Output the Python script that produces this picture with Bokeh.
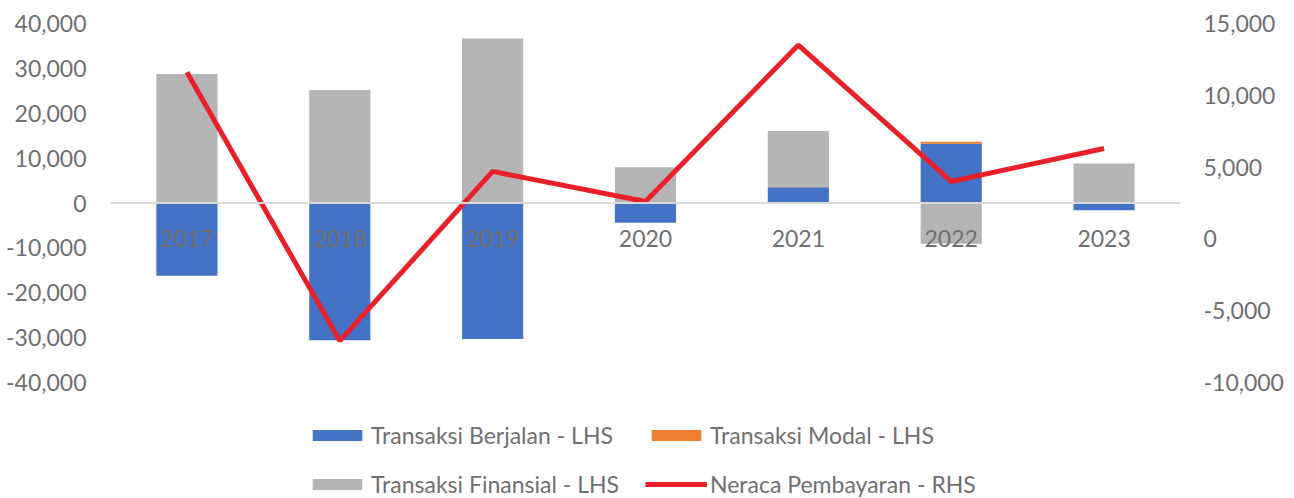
from bokeh.plotting import figure
from bokeh.layouts import column
from bokeh.models import (Range1d, LinearAxis, FixedTicker, NumeralTickFormatter,
                          Span, Legend, LegendItem, FactorRange, ColumnDataSource)
from bokeh.core.properties import value
from bokeh.embed import file_html
from bokeh.resources import INLINE

# ---- data (USD million) ----
years = ["2017", "2018", "2019", "2020", "2021", "2022", "2023"]
transaksi_berjalan = [-16200, -30600, -30300, -4400, 3500, 13200, -1600]
transaksi_modal = [50, 100, 40, 40, 70, 470, 100]
transaksi_finansial = [28700, 25100, 36600, 7900, 12500, -9100, 8700]
neraca_pembayaran = [11600, -7100, 4700, 2600, 13500, 4000, 6300]
left_ticks = [-40000, -30000, -20000, -10000, 0, 10000, 20000, 30000, 40000]
right_ticks = [-10000, -5000, 0, 5000, 10000, 15000]
series_names = ["Transaksi Berjalan - LHS", "Transaksi Modal - LHS",
                "Transaksi Finansial - LHS", "Neraca Pembayaran - RHS"]

FONT = "Lato"
TXT = "#6f6f6f"
C_BLUE, C_ORANGE, C_GRAY, C_RED = "#4472c4", "#ed7d31", "#b4b4b4", "#e8202a"

p = figure(width=1288, height=398, x_range=FactorRange(factors=years, range_padding=0),
           y_range=Range1d(left_ticks[0], left_ticks[-1]),
           output_backend="svg", toolbar_location=None,
           min_border_left=110, min_border_right=108, min_border_top=23, min_border_bottom=16)
p.outline_line_color = None
p.xgrid.visible = False
p.ygrid.visible = False
p.xaxis.visible = False

# left axis
ya = p.yaxis[0]
ya.ticker = FixedTicker(ticks=left_ticks)
ya.formatter = NumeralTickFormatter(format="0,0")
ya.axis_line_color = None
ya.major_tick_line_color = None
ya.minor_tick_line_color = None
ya.major_tick_out = 0
ya.major_label_standoff = 24
ya.major_label_text_font = FONT
ya.major_label_text_font_size = "23px"
ya.major_label_text_color = TXT

# right axis
p.extra_y_ranges = {"rhs": Range1d(right_ticks[0], right_ticks[-1])}
ra = LinearAxis(y_range_name="rhs", ticker=FixedTicker(ticks=right_ticks),
                formatter=NumeralTickFormatter(format="0,0"))
ra.axis_line_color = None
ra.major_tick_line_color = None
ra.minor_tick_line_color = None
ra.major_tick_out = 0
ra.major_label_standoff = 23
ra.major_label_text_font = FONT
ra.major_label_text_font_size = "23px"
ra.major_label_text_color = TXT
p.add_layout(ra, "right")

# zero line
p.add_layout(Span(location=0, dimension="width", line_color="#d9d9d9", line_width=2))

# stacked bars (positives and negatives stacked separately)
series = [transaksi_berjalan, transaksi_modal, transaksi_finansial]
colors = [C_BLUE, C_ORANGE, C_GRAY]
pos = [0] * len(years)
neg = [0] * len(years)
for vals, col in zip(series, colors):
    tops, bottoms = [], []
    for i, v in enumerate(vals):
        if v >= 0:
            bottoms.append(pos[i]); tops.append(pos[i] + v); pos[i] += v
        else:
            tops.append(neg[i]); bottoms.append(neg[i] + v); neg[i] += v
    src = ColumnDataSource(dict(x=years, top=tops, bottom=bottoms))
    p.vbar(x="x", top="top", bottom="bottom", width=0.4, source=src,
           fill_color=col, line_color=None)

# category labels next to zero line
p.text(x=years, y=[0] * len(years), text=years, text_align="center", text_baseline="middle",
       y_offset=35, text_font=value(FONT), text_font_size="23px", text_color=TXT)

# line on RHS
p.line(x=years, y=neraca_pembayaran, y_range_name="rhs", line_color=C_RED, line_width=5)

# ---- legend strip below the chart (proxy glyphs kept out of view) ----
lg = figure(width=1288, height=100, x_range=Range1d(0, 1), y_range=Range1d(0, 1),
            output_backend="svg", toolbar_location=None,
            x_axis_location=None, y_axis_location=None,
            min_border_left=0, min_border_right=0, min_border_top=0, min_border_bottom=0)
lg.outline_line_color = None
lg.xgrid.visible = False
lg.ygrid.visible = False
proxy = ColumnDataSource(dict(x=[-5], top=[-5], bottom=[-5], y=[-5]))
r_ca = lg.vbar(x="x", top="top", bottom="bottom", width=0.1, source=proxy, fill_color=C_BLUE, line_color=None)
r_kap = lg.vbar(x="x", top="top", bottom="bottom", width=0.1, source=proxy, fill_color=C_ORANGE, line_color=None)
r_fin = lg.vbar(x="x", top="top", bottom="bottom", width=0.1, source=proxy, fill_color=C_GRAY, line_color=None)
r_bop = lg.line(x="x", y="y", source=proxy, line_color=C_RED, line_width=5)

legend = Legend(items=[LegendItem(label=n, renderers=[r]) for n, r in
                       zip(series_names, [r_ca, r_kap, r_fin, r_bop])],
                ncols=2, orientation="horizontal", location=(196, 0))
legend.glyph_width = 62
legend.glyph_height = 14
legend.label_height = 22
legend.label_width = 253
legend.label_standoff = 3
legend.spacing = 21
legend.padding = 0
legend.margin = 0
legend.border_line_color = None
legend.background_fill_alpha = 0
legend.label_text_font = FONT
legend.label_text_font_size = "23px"
legend.label_text_color = TXT
lg.add_layout(legend)

layout = column(p, lg, spacing=0)
open("out.html", "w").write(file_html(layout, INLINE))
